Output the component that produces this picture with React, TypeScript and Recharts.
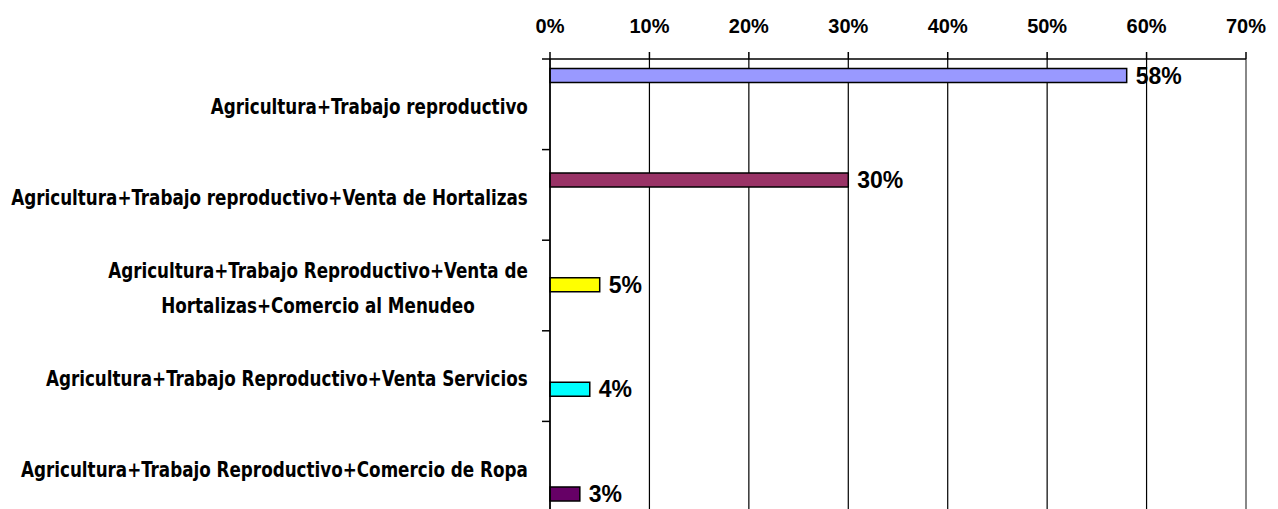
import { Bar, BarChart, CartesianGrid, LabelList, ReferenceLine, XAxis, YAxis } from 'recharts'

const categories = [
  'Agricultura+Trabajo reproductivo',
  'Agricultura+Trabajo reproductivo+Venta de Hortalizas',
  'Agricultura+Trabajo Reproductivo+Venta de\nHortalizas+Comercio al Menudeo',
  'Agricultura+Trabajo Reproductivo+Venta Servicios',
  'Agricultura+Trabajo Reproductivo+Comercio de Ropa',
]
const shares = [0.58, 0.3, 0.05, 0.04, 0.03]
const seriesKeys = ['s1', 's2', 's3', 's4', 's5']
const seriesColors = ['#9999FF', '#993366', '#FFFF00', '#00FFFF', '#660066']
const xTicks = [0, 0.1, 0.2, 0.3, 0.4, 0.5, 0.6, 0.7]

// one series per category, like the original spreadsheet chart
const data = categories.map((name, i) => {
  const row: Record<string, string | number | null> = { name }
  seriesKeys.forEach((k, j) => {
    row[k] = i === j ? shares[i] : null
  })
  return row
})

const labelFamily = "'DejaVu Sans Condensed', 'DejaVu Sans', sans-serif"
const labelSize = 22
const squeeze = 0.848 // no narrow bold font installed, so condense by hand
const arial = "'Liberation Sans', Arial, sans-serif"

let ctx: CanvasRenderingContext2D | null = null
const measure = (s: string) => {
  if (!ctx) ctx = document.createElement('canvas').getContext('2d')
  if (!ctx) return s.length * 12
  ctx.font = `bold ${labelSize}px ${labelFamily}`
  return ctx.measureText(s).width
}

const pct = (v: number) => `${Math.round(v * 100)}%`

const CategoryTick = ({ x, y, payload }: any) => {
  const lines = String(payload.value).split('\n')
  const half = payload.offset ?? 45.25
  const right = x - 22
  const widest = Math.max(...lines.map(measure))
  const first = 10 - (lines.length - 1) * 17.5
  return (
    <g>
      <line x1={x - 8} x2={x} y1={y - half} y2={y - half} stroke="#000" strokeWidth={1.5} />
      <g transform={`translate(${right}, ${y}) scale(${squeeze}, 1)`}>
        <text textAnchor="middle" fontFamily={labelFamily} fontWeight="bold" fontSize={labelSize} fill="#000">
          {lines.map((l, i) => (
            <tspan key={i} x={-widest / 2} y={first + i * 35}>
              {l}
            </tspan>
          ))}
        </text>
      </g>
    </g>
  )
}

export default function App() {
  return (
    <div style={{ position: 'absolute', left: 0, top: 0, background: '#fff' }}>
      <BarChart
        width={1278}
        height={520}
        data={data}
        layout="vertical"
        margin={{ top: 0, right: 32, bottom: 8, left: 0 }}
        barCategoryGap="10.5%"
        barGap={0}
      >
        <CartesianGrid horizontal={false} stroke="#000" strokeWidth={1.2} />
        <XAxis
          type="number"
          orientation="top"
          domain={[0, 0.7]}
          ticks={xTicks}
          interval={0}
          tickFormatter={pct}
          height={59}
          tickSize={7}
          tickMargin={19}
          axisLine={{ stroke: '#000', strokeWidth: 1.5 }}
          tickLine={{ stroke: '#000', strokeWidth: 1.5 }}
          tick={{ fill: '#000', fontFamily: arial, fontWeight: 'bold', fontSize: 20 }}
        />
        <YAxis
          type="category"
          dataKey="name"
          width={550}
          interval={0}
          tickLine={false}
          tickSize={0}
          tickMargin={0}
          axisLine={{ stroke: '#000', strokeWidth: 1.5 }}
          tick={<CategoryTick />}
        />
        <ReferenceLine x={0.7} stroke="#888" strokeWidth={2} />
        {seriesKeys.map((k, j) => (
          <Bar key={k} dataKey={k} fill={seriesColors[j]} stroke="#000" strokeWidth={1.5} isAnimationActive={false}>
            <LabelList
              dataKey={k}
              position="right"
              offset={9}
              formatter={(v: any) => (v == null ? '' : pct(v))}
              fill="#000"
              fontFamily={arial}
              fontWeight="bold"
              fontSize={23}
            />
          </Bar>
        ))}
      </BarChart>
    </div>
  )
}
